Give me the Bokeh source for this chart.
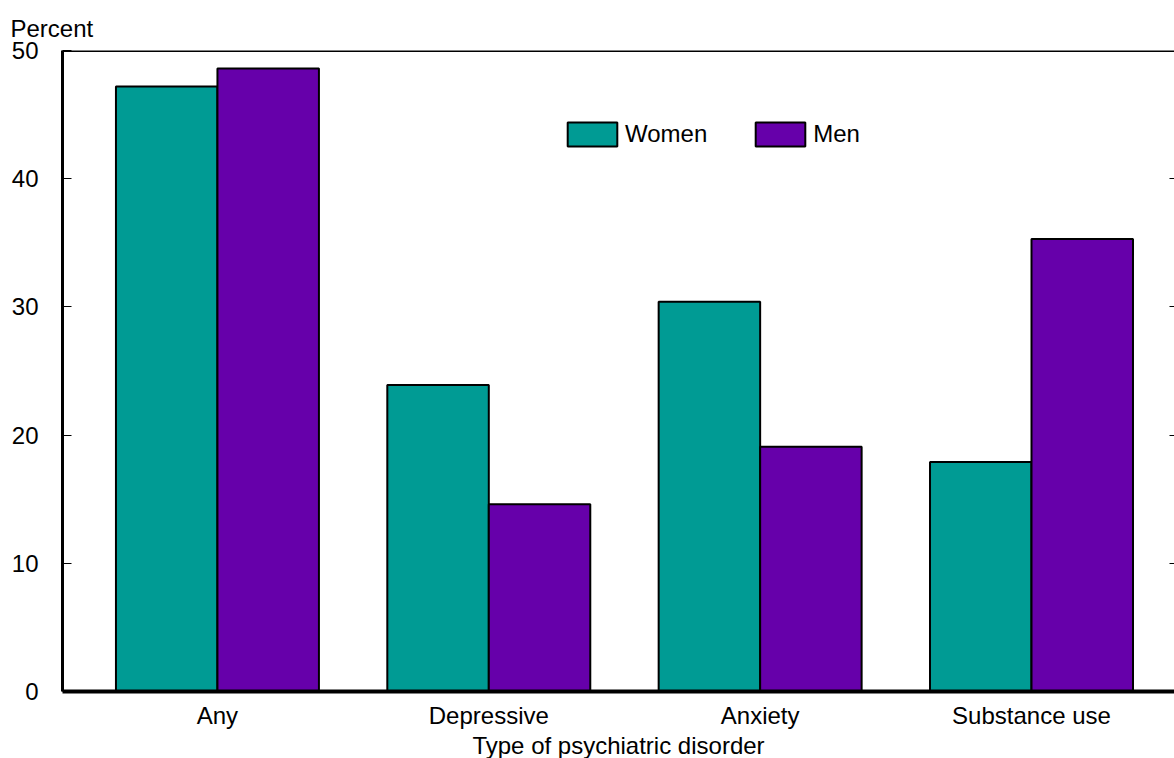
from bokeh.plotting import figure
from bokeh.models import (ColumnDataSource, Range1d, FixedTicker, LinearAxis, Span,
                          Legend, LegendItem, Title)
from bokeh.transform import dodge
from bokeh.embed import file_html
from bokeh.resources import INLINE

categories = ["Any", "Depressive", "Anxiety", "Substance use"]
women = [47.2, 23.9, 30.4, 17.9]
men = [48.6, 14.6, 19.1, 35.3]
y_ticks = [0, 10, 20, 30, 40, 50]

TEAL = "#009B94"
PURPLE = "#6600AA"
FONT = "Liberation Sans"
FS = "24px"

src = ColumnDataSource(dict(x=list(range(len(categories))), women=women, men=men))

p = figure(frame_width=1112, frame_height=641, output_backend="svg", toolbar_location=None,
           x_range=Range1d(-0.571, 3.527), y_range=Range1d(0, 50),
           min_border_left=62, min_border_right=0, min_border_top=50, min_border_bottom=0,
           background_fill_color="white", border_fill_color="white",
           outline_line_color=None)
p.xgrid.visible = False
p.ygrid.visible = False

bw = 0.374
rw = p.vbar(x=dodge("x", -bw / 2, range=p.x_range), top="women", width=bw, source=src,
            fill_color=TEAL, line_color="black", line_width=2)
rm = p.vbar(x=dodge("x", bw / 2, range=p.x_range), top="men", width=bw, source=src,
            fill_color=PURPLE, line_color="black", line_width=2)

# x axis
xa = p.xaxis[0]
xa.ticker = FixedTicker(ticks=list(range(len(categories))))
xa.major_label_overrides = {i: c for i, c in enumerate(categories)}
xa.major_tick_line_color = None
xa.minor_tick_line_color = None
xa.major_tick_in = 0
xa.major_tick_out = 0
xa.axis_line_width = 4
xa.axis_line_color = "black"
xa.major_label_text_font = FONT
xa.major_label_text_font_size = FS
xa.major_label_text_color = "black"
xa.major_label_standoff = 10
xa.axis_label = "Type of psychiatric disorder"
xa.axis_label_text_font = FONT
xa.axis_label_text_font_size = FS
xa.axis_label_text_font_style = "normal"
xa.axis_label_text_color = "black"
xa.axis_label_standoff = 0
xa.axis_label_text_line_height = 1.0

# y axis
ya = p.yaxis[0]
ya.ticker = FixedTicker(ticks=y_ticks)
ya.major_tick_in = 9
ya.major_tick_out = 0
ya.major_tick_line_color = "black"
ya.minor_tick_line_color = None
ya.axis_line_width = 3
ya.axis_line_color = "black"
ya.major_label_text_font = FONT
ya.major_label_text_font_size = FS
ya.major_label_text_color = "black"
ya.major_label_standoff = 24

ra = LinearAxis(ticker=FixedTicker(ticks=y_ticks[1:-1]), major_tick_in=5, major_tick_out=0,
                axis_line_color=None, minor_tick_line_color=None,
                major_label_text_color=None, major_label_standoff=0)
p.add_layout(ra, "right")

p.add_layout(Span(location=50, dimension="width", line_color="black", line_width=3))

legend = Legend(items=[LegendItem(label="Women", renderers=[rw]),
                       LegendItem(label="Men", renderers=[rm])],
                orientation="horizontal", location=(499, 542),
                glyph_width=62, glyph_height=30, label_height=30, label_standoff=2, spacing=42,
                padding=0, margin=0, border_line_color=None, background_fill_alpha=0,
                label_text_font=FONT, label_text_font_size=FS, label_text_color="black")
p.add_layout(legend, "center")

p.add_layout(Title(text="Percent", align="left", offset=-52, standoff=14, vertical_align="top",
                   text_font=FONT, text_font_size=FS, text_font_style="normal",
                   text_color="black"), "above")

open("out.html", "w").write(file_html(p, INLINE))
